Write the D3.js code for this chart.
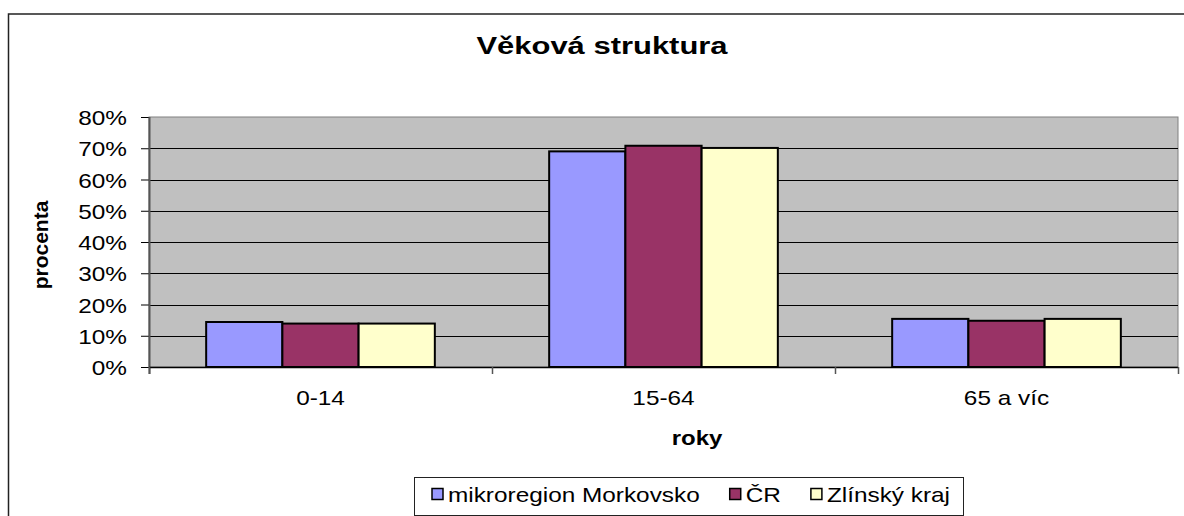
<!DOCTYPE html>
<html>
<head>
<meta charset="utf-8">
<script src="https://cdn.jsdelivr.net/npm/d3@7"></script>
<style>
  body { margin: 0; background: #fff; }
  text { font-family: "Liberation Sans", Arial, sans-serif; fill: #000; }
</style>
</head>
<body>
<div id="chart"></div>
<script>
  // data
  var categories = ['0-14', '15-64', '65 a víc'];
  var seriesNames = ['mikroregion Morkovsko', 'ČR', 'Zlínský kraj'];
  var morkovsko = [14.4, 69.0, 15.4];
  var cr = [13.9, 70.8, 14.8];
  var zlinsky = [13.9, 70.1, 15.4];
  var yTicks = [0, 10, 20, 30, 40, 50, 60, 70, 80];

  var seriesValues = [morkovsko, cr, zlinsky];
  var colors = ['#9999ff', '#993366', '#ffffcc'];

  var width = 1184;
  var height = 516;
  var plot = { left: 149, right: 1178, top: 117, bottom: 367 };
  var sx = 1.16; // the picture is stretched sideways a bit

  var svg = d3.select('#chart').append('svg')
      .attr('width', width)
      .attr('height', height);

  // chart frame (right/bottom sides run off the picture)
  svg.append('rect')
      .attr('x', 8.5).attr('y', 14)
      .attr('width', 1200).attr('height', 600)
      .attr('fill', 'none')
      .attr('stroke', '#222')
      .attr('stroke-width', 1.5);

  var x0 = d3.scaleBand()
      .domain(categories)
      .range([plot.left, plot.right]);

  var x1 = d3.scaleBand()
      .domain(d3.range(seriesNames.length))
      .range([0, x0.bandwidth()])
      .paddingOuter(0.75);

  var y = d3.scaleLinear()
      .domain([0, 80])
      .range([plot.bottom, plot.top]);

  // plot area
  svg.append('rect')
      .attr('x', plot.left).attr('y', plot.top)
      .attr('width', plot.right - plot.left)
      .attr('height', plot.bottom - plot.top)
      .attr('fill', '#c0c0c0')
      .attr('stroke', '#808080')
      .attr('stroke-width', 1);

  // gridlines
  svg.append('g')
      .selectAll('line')
      .data(yTicks.filter(d => d > 0 && d < 80))
      .enter()
      .append('line')
        .attr('x1', plot.left).attr('x2', plot.right)
        .attr('y1', d => Math.round(y(d)) + 0.5)
        .attr('y2', d => Math.round(y(d)) + 0.5)
        .attr('stroke', '#000')
        .attr('stroke-width', 1);

  // bars
  var groups = svg.append('g')
      .selectAll('g')
      .data(categories)
      .enter()
      .append('g')
        .attr('transform', d => 'translate(' + x0(d) + ',0)');

  groups.selectAll('rect')
      .data((d, i) => seriesValues.map((vals, s) => ({ s: s, v: vals[i] })))
      .enter()
      .append('rect')
        .attr('x', d => x1(d.s))
        .attr('y', d => y(d.v))
        .attr('width', x1.bandwidth())
        .attr('height', d => y(0) - y(d.v))
        .attr('fill', d => colors[d.s])
        .attr('stroke', '#000')
        .attr('stroke-width', 2);

  // y axis
  var yAxis = d3.axisLeft(y)
      .tickValues(yTicks)
      .tickFormat(d => d + '%')
      .tickSize(8)
      .tickSizeOuter(0);

  var gy = svg.append('g')
      .attr('transform', 'translate(' + plot.left + ',0)')
      .call(yAxis);
  gy.select('.domain').remove();
  gy.selectAll('.tick line').attr('stroke', '#000');
  gy.selectAll('.tick text')
      .attr('x', -22 / sx)
      .attr('dy', '0.36em')
      .attr('transform', 'scale(' + sx + ',1)')
      .style('font-size', '21px')
      .style('font-family', '"Liberation Sans", Arial, sans-serif')
      .attr('fill', '#000');

  svg.append('line')
      .attr('x1', plot.left + 0.5).attr('x2', plot.left + 0.5)
      .attr('y1', plot.top).attr('y2', plot.bottom + 7)
      .attr('stroke', '#555').attr('stroke-width', 2);

  // x axis line and category separators
  svg.append('line')
      .attr('x1', plot.left).attr('x2', plot.right)
      .attr('y1', plot.bottom + 0.5).attr('y2', plot.bottom + 0.5)
      .attr('stroke', '#000').attr('stroke-width', 1.5);

  var bounds = categories.map(c => x0(c)).concat([plot.right]);
  svg.append('g')
      .selectAll('line')
      .data(bounds)
      .enter()
      .append('line')
        .attr('x1', d => Math.round(d) + 0.5).attr('x2', d => Math.round(d) + 0.5)
        .attr('y1', plot.bottom).attr('y2', plot.bottom + 7)
        .attr('stroke', '#555').attr('stroke-width', 1.5);

  // category labels
  svg.append('g')
      .selectAll('text')
      .data(categories)
      .enter()
      .append('text')
        .attr('transform', d => 'translate(' + (x0(d) + x0.bandwidth() / 2) + ',405) scale(' + sx + ',1)')
        .style('text-anchor', 'middle')
        .style('font-size', '21px')
        .text(d => d);

  // title and axis titles
  svg.append('text')
      .attr('transform', 'translate(602,54) scale(1.29,1)')
      .style('text-anchor', 'middle')
      .style('font-size', '24px')
      .style('font-weight', 'bold')
      .text('Věková struktura');

  svg.append('text')
      .attr('transform', 'translate(697,445) scale(1.2,1)')
      .style('text-anchor', 'middle')
      .style('font-size', '20px')
      .style('font-weight', 'bold')
      .text('roky');

  svg.append('text')
      .attr('transform', 'translate(48,245) rotate(-90)')
      .style('text-anchor', 'middle')
      .style('font-size', '21px')
      .style('font-weight', 'bold')
      .text('procenta');

  // legend
  var legend = svg.append('g');
  legend.append('rect')
      .attr('x', 414.5).attr('y', 477.5)
      .attr('width', 549).attr('height', 38)
      .attr('fill', '#fff')
      .attr('stroke', '#222')
      .attr('stroke-width', 1);

  var lx = 432;
  seriesNames.forEach(function (name, i) {
    legend.append('rect')
        .attr('x', lx).attr('y', 488.5)
        .attr('width', 11).attr('height', 11)
        .attr('fill', colors[i])
        .attr('stroke', '#000')
        .attr('stroke-width', 1.5);
    var t = legend.append('text')
        .attr('transform', 'translate(' + (lx + 16) + ',502) scale(' + sx + ',1)')
        .style('font-size', '21px')
        .text(name);
    lx += 16 + t.node().getComputedTextLength() * sx + 30;
  });
</script>
</body>
</html>
